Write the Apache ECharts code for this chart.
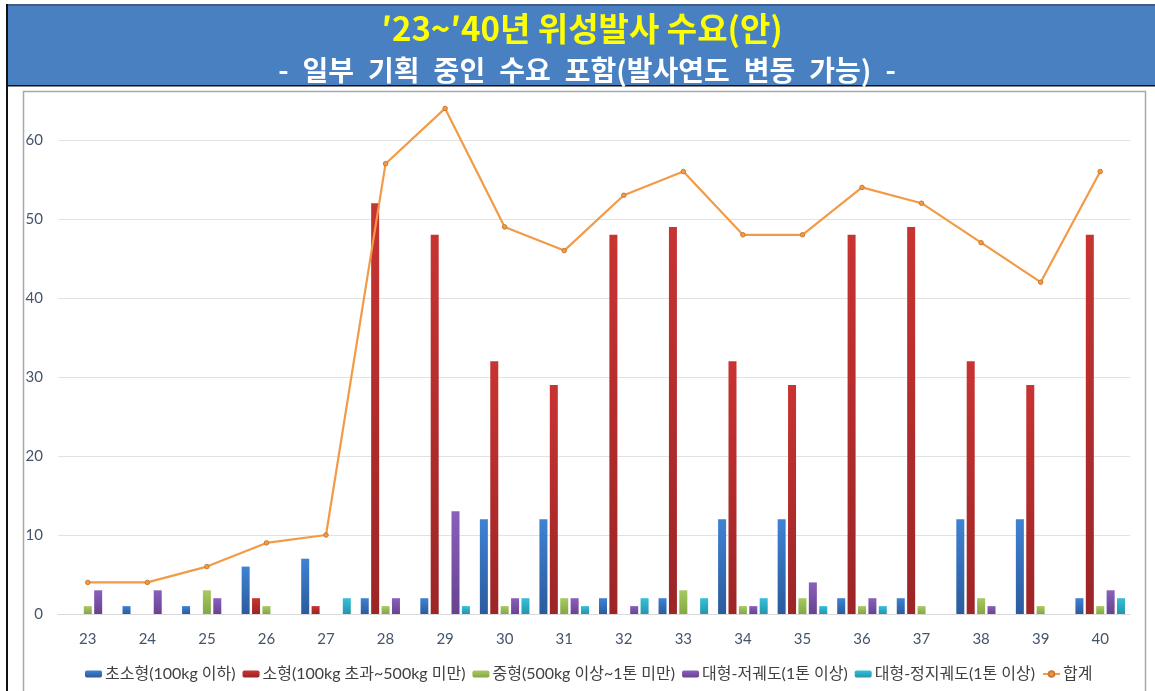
<!DOCTYPE html>
<html>
<head>
<meta charset="utf-8">
<script src="https://cdn.jsdelivr.net/npm/echarts@6/dist/echarts.min.js"></script>
<style>
  html, body { margin: 0; padding: 0; background: #ffffff; }
  #chart { width: 1155px; height: 691px; }
</style>
</head>
<body>
<div id="chart"></div>
<script>
// Launch years ('23 ~ '40)
const years = ['23','24','25','26','27','28','29','30','31','32','33','34','35','36','37','38','39','40'];

// Satellites per class and year
const ultraSmall = [0, 1, 1, 6, 7, 2, 2, 12, 12, 2, 2, 12, 12, 2, 2, 12, 12, 2];
const small      = [0, 0, 0, 2, 1, 52, 48, 32, 29, 48, 49, 32, 29, 48, 49, 32, 29, 48];
const medium     = [1, 0, 3, 1, 0, 1, 0, 1, 2, 0, 3, 1, 2, 1, 1, 2, 1, 1];
const largeLEO   = [3, 3, 2, 0, 0, 2, 13, 2, 2, 1, 0, 1, 4, 2, 0, 1, 0, 3];
const largeGEO   = [0, 0, 0, 0, 2, 0, 1, 2, 1, 2, 2, 2, 1, 1, 0, 0, 0, 2];
const total      = [4, 4, 6, 9, 10, 57, 64, 49, 46, 53, 56, 48, 48, 54, 52, 47, 42, 56];

// Series names
const seriesNames = [
  '초소형(100kg 이하)',
  '소형(100kg 초과~500kg 미만)',
  '중형(500kg 이상~1톤 미만)',
  '대형-저궤도(1톤 이상)',
  '대형-정지궤도(1톤 이상)',
  '합계'
];

// Y axis ticks
const yTicks = { min: 0, max: 66, interval: 10 };

const titleText = '′23~′40년 위성발사 수요(안)';
// subtitle words are set apart with en spaces
const subtitleText = ['-', '일부', '기획', '중인', '수요', '포함(발사연도', '변동', '가능)', '-'].join('\u2002');

const labelFont = "Lato, 'Noto Sans CJK KR', sans-serif";

function grad(top, bottom) {
  return new echarts.graphic.LinearGradient(0, 0, 0, 1, [
    { offset: 0, color: top },
    { offset: 1, color: bottom }
  ]);
}

const barColors = [
  ['#3f82d4', '#2b5b9c'],
  ['#c83432', '#9c2526'],
  ['#a7ca62', '#84a745'],
  ['#8a5fbd', '#67438f'],
  ['#38bfd8', '#2495ae']
];
const barData = [ultraSmall, small, medium, largeLEO, largeGEO];

const barSeries = barData.map((d, i) => ({
  name: seriesNames[i],
  type: 'bar',
  data: d,
  barWidth: 8,
  barGap: '30%',
  itemStyle: { color: grad(barColors[i][0], barColors[i][1]) }
}));

const chart = echarts.init(document.getElementById('chart'), null, { renderer: 'canvas' });

chart.setOption({
  backgroundColor: '#ffffff',
  animation: false,
  graphic: [
    // header banner
    { type: 'rect', left: 7, top: 4, shape: { width: 1148, height: 81 },
      style: { fill: '#4880c2' }, z: 1 },
    { type: 'rect', left: 7, top: 4, shape: { width: 1148, height: 2 },
      style: { fill: '#3e5e88' }, z: 2 },
    { type: 'rect', left: 7, top: 85, shape: { width: 1148, height: 1.5 },
      style: { fill: '#111111' }, z: 2 },
    { type: 'rect', left: 6, top: 4, shape: { width: 2, height: 687 },
      style: { fill: '#111111' }, z: 2 },
    // chart frame
    { type: 'rect', left: 21, top: 89, shape: { width: 1122, height: 620 },
      style: { fill: 'none', stroke: '#a8a8a8', lineWidth: 1.5 }, z: 0 },
    // titles
    { type: 'text', x: 582, y: 28, z: 3,
      style: { text: titleText, fill: '#ffff00', fontSize: 33, fontWeight: 'bold',
               fontFamily: "'Noto Sans CJK KR', sans-serif", align: 'center', verticalAlign: 'middle' } },
    { type: 'text', x: 587, y: 70, z: 3,
      style: { text: subtitleText, fill: '#ffffff', fontSize: 28, fontWeight: 'bold',
               fontFamily: "'Noto Sans CJK KR', sans-serif", align: 'center', verticalAlign: 'middle' } }
  ],
  grid: { left: 58, right: 25, top: 92.6, bottom: 77, containLabel: false },
  legend: {
    data: seriesNames,
    left: 80,
    top: 661,
    itemWidth: 17,
    itemHeight: 7,
    itemGap: 7,
    textStyle: { fontSize: 16, color: '#404040', fontFamily: labelFont, padding: [0, 0, 0, -2] }
  },
  xAxis: {
    type: 'category',
    data: years,
    axisLine: { show: true, lineStyle: { color: '#d9d9d9', width: 1 } },
    axisTick: { show: false },
    axisLabel: { color: '#44546a', fontSize: 15, margin: 18, fontFamily: labelFont }
  },
  yAxis: {
    type: 'value',
    min: yTicks.min,
    max: yTicks.max,
    interval: yTicks.interval,
    axisLine: { show: false },
    axisTick: { show: false },
    axisLabel: { color: '#44546a', fontSize: 15, margin: 15, showMaxLabel: false, fontFamily: labelFont },
    splitLine: { show: true, showMaxLine: false, lineStyle: { color: '#e2e2e2', width: 1 } }
  },
  series: [
    ...barSeries,
    {
      name: seriesNames[5],
      type: 'line',
      data: total,
      z: 5,
      symbol: 'circle',
      symbolSize: 4.5,
      lineStyle: { color: '#f29a46', width: 2.2 },
      itemStyle: { color: '#f29a46', borderColor: '#c97a30', borderWidth: 1 }
    }
  ]
});
</script>
</body>
</html>
